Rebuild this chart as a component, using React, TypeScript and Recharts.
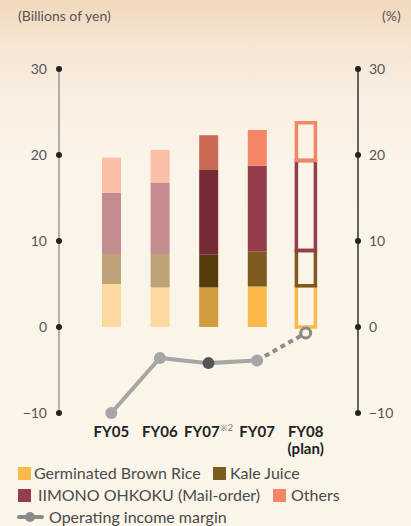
import React from "react";
import { ComposedChart, Bar, Line, XAxis, YAxis, Cell } from "recharts";

const categories = ["FY05", "FY06", "FY07※2", "FY07", "FY08(plan)"];
const germinatedBrownRice = [5.0, 4.6, 4.6, 4.7, 4.8];
const kaleJuice = [3.5, 3.9, 3.8, 4.05, 4.1];
const iimonoOhkoku = [7.1, 8.3, 9.85, 10.0, 10.45];
const others = [4.1, 3.8, 4.05, 4.15, 4.4];
const operatingMargin = [-10, -3.6, -4.2, -3.9, -0.7];
const axisTicks = [-10, 0, 10, 20, 30];

// column 0-1: older years (pale), 2: restated FY07, 3: FY07, 4: plan (outlined)
const palette: Record<string, string[]> = {
  germ: ["#fdd9a0", "#fdd9a0", "#d19c3f", "#fdb84a", "#fdb84a"],
  kale: ["#bca277", "#bca277", "#553c0b", "#7d5a1e", "#7d5a1e"],
  iimono: ["#c38c8e", "#c38c8e", "#762b37", "#943d4b", "#943d4b"],
  others: ["#fbbfa7", "#fbbfa7", "#c96b53", "#f48567", "#f48567"],
};

const planIndex = categories.length - 1;

const data = categories.map((c, i) => ({
  name: c,
  germ: germinatedBrownRice[i],
  kale: kaleJuice[i],
  iimono: iimonoOhkoku[i],
  others: others[i],
  margin: i < planIndex ? operatingMargin[i] : null,
  marginPlan: i >= planIndex - 1 ? operatingMargin[i] : null,
}));

const FONT = "Lato, 'Open Sans', sans-serif";

const fmt = (v: number) => (v < 0 ? `\u2212${Math.abs(v)}` : `${v}`);

// with tickSize/tickMargin at 0, x/y sit right on the axis line
const LeftTick = ({ x, y, payload }: any) => (
  <g>
    <circle cx={x} cy={y} r={3} fill="#222" />
    <text x={x - 12} y={y} dy="0.35em" textAnchor="end" fontSize={14} fill="#555" fontFamily={FONT}>
      {fmt(payload.value)}
    </text>
  </g>
);

const RightTick = ({ x, y, payload }: any) => (
  <g>
    <circle cx={x} cy={y} r={3} fill="#222" />
    <text x={x + 11} y={y} dy="0.35em" textAnchor="start" fontSize={14} fill="#555" fontFamily={FONT}>
      {fmt(payload.value)}
    </text>
  </g>
);

const CategoryTick = ({ x, y, payload }: any) => {
  const v: string = payload.value;
  const [main, note] = v.split("※");
  const plan = main.endsWith("(plan)");
  const first = plan ? main.replace("(plan)", "") : main;
  return (
    <g fontFamily={FONT} fontWeight={700} fontSize={15} fill="#222">
      <text x={x} y={y + 16} textAnchor="middle">
        {first}
        {note && (
          <tspan fontSize={9} fontWeight={400} fill="#777" dy={-6}>
            ※{note}
          </tspan>
        )}
      </text>
      {plan && (
        <text x={x} y={y + 33} textAnchor="middle">
          (plan)
        </text>
      )}
    </g>
  );
};

const MarginDot = ({ cx, cy, index }: any) => {
  if (cx == null || cy == null) return <g key={index} />;
  const fill = index === 2 ? "#555555" : "#a6a6a6";
  return <circle key={index} cx={cx} cy={cy} r={6} fill={fill} />;
};

const PlanDot = ({ cx, cy, index }: any) => {
  if (index !== planIndex || cx == null || cy == null) return <g key={index} />;
  return <circle key={index} cx={cx} cy={cy} r={5} fill="#fbf4e8" stroke="#8a8a8a" strokeWidth={3} />;
};

const segments: { key: string; label: string }[] = [
  { key: "germ", label: "Germinated Brown Rice" },
  { key: "kale", label: "Kale Juice" },
  { key: "iimono", label: "IIMONO OHKOKU (Mail-order)" },
  { key: "others", label: "Others" },
];

const Swatch = ({ color, left, top, label, textLeft }: any) => (
  <>
    <div style={{ position: "absolute", left, top, width: 13, height: 13, background: color }} />
    <div
      style={{
        position: "absolute",
        left: textLeft,
        top: top - 4,
        fontSize: 16,
        lineHeight: "20px",
        color: "#4a4a4a",
        fontFamily: FONT,
        whiteSpace: "nowrap",
      }}
    >
      {label}
    </div>
  </>
);

export default function App() {
  return (
    <div
      style={{
        position: "absolute",
        left: 0,
        top: 0,
        width: 411,
        height: 526,
        overflow: "hidden",
        background: "linear-gradient(180deg, #f1d8bb 0px, #f6e6d2 45px, #f9efe2 100px, #fbf4e8 160px, #fbf5ea 526px)",
      }}
    >
      <div style={{ position: "absolute", left: 18, top: 7, fontSize: 14, color: "#555", fontFamily: FONT }}>
        (Billions of yen)
      </div>
      <div style={{ position: "absolute", left: 382, top: 7, fontSize: 14, color: "#555", fontFamily: FONT }}>
        (%)
      </div>

      <ComposedChart
        width={411}
        height={526}
        data={data}
        margin={{ top: 69, right: 13, bottom: 63, left: 19 }}
        barSize={19}
        style={{ overflow: "visible" }}
      >
        <XAxis
          dataKey="name"
          axisLine={false}
          tickLine={false}
          padding={{ left: 28, right: 28 }}
          height={50}
          tick={<CategoryTick />}
          interval={0}
        />
        <YAxis
          yAxisId="left"
          width={40}
          domain={[-10, 30]}
          ticks={axisTicks}
          axisLine={{ stroke: "#9c9792", strokeWidth: 1.5 }}
          tickLine={false}
          tickSize={0}
          tickMargin={0}
          tick={<LeftTick />}
        />
        <YAxis
          yAxisId="right"
          orientation="right"
          width={40}
          domain={[-10, 30]}
          ticks={axisTicks}
          axisLine={{ stroke: "#333", strokeWidth: 1.5 }}
          tickLine={false}
          tickSize={0}
          tickMargin={0}
          tick={<RightTick />}
        />
        {segments.map((s) => (
          <Bar key={s.key} dataKey={s.key} stackId="sales" yAxisId="left" isAnimationActive={false}>
            {data.map((_, i) => (
              <Cell
                key={i}
                fill={i === planIndex ? "none" : palette[s.key][i]}
                stroke={i === planIndex ? palette[s.key][i] : "none"}
                strokeWidth={i === planIndex ? 3.5 : 0}
              />
            ))}
          </Bar>
        ))}
        <Line
          yAxisId="right"
          dataKey="marginPlan"
          stroke="#8c8c8c"
          strokeWidth={4}
          strokeDasharray="5 4"
          dot={<PlanDot />}
          activeDot={false}
          isAnimationActive={false}
        />
        <Line
          yAxisId="right"
          dataKey="margin"
          stroke="#a6a6a6"
          strokeWidth={4}
          dot={<MarginDot />}
          activeDot={false}
          isAnimationActive={false}
        />
      </ComposedChart>

      <Swatch color={palette.germ[3]} left={18} top={467} textLeft={34} label={segments[0].label} />
      <Swatch color={palette.kale[3]} left={213} top={467} textLeft={230} label={segments[1].label} />
      <Swatch color={palette.iimono[3]} left={18} top={489} textLeft={38} label={segments[2].label} />
      <Swatch color={palette.others[3]} left={273} top={489} textLeft={291} label={segments[3].label} />

      <svg style={{ position: "absolute", left: 17, top: 509 }} width={28} height={16}>
        <line x1={2} y1={8} x2={25} y2={8} stroke="#8a8a8a" strokeWidth={4} strokeLinecap="round" />
        <circle cx={13} cy={8} r={5} fill="#8a8a8a" />
      </svg>
      <div
        style={{
          position: "absolute",
          left: 49,
          top: 507,
          fontSize: 16,
          lineHeight: "20px",
          color: "#4a4a4a",
          fontFamily: FONT,
          whiteSpace: "nowrap",
        }}
      >
        Operating income margin
      </div>
    </div>
  );
}
